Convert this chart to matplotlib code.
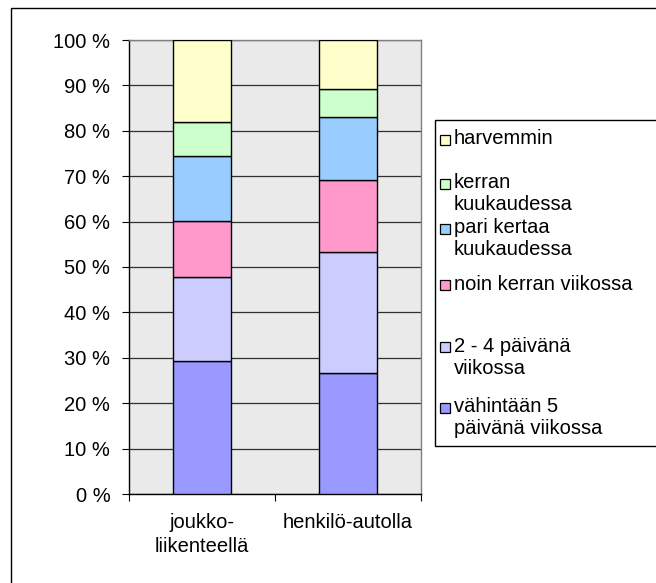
import matplotlib
matplotlib.use('Agg')
import matplotlib.pyplot as plt
import numpy as np
from matplotlib.patches import Rectangle

plt.rcParams['font.family'] = ['Liberation Sans', 'DejaVu Sans']

# data (percent shares, bottom to top)
categories = ['joukko-\nliikenteellä', 'henkilö-autolla']
series_names = ['vähintään 5\npäivänä viikossa', '2 - 4 päivänä\nviikossa',
                'noin kerran viikossa', 'pari kertaa\nkuukaudessa',
                'kerran\nkuukaudessa', 'harvemmin']
values = [
    [29.2, 26.6],
    [18.7, 26.6],
    [12.3, 16.0],
    [14.3, 13.9],
    [7.4, 6.0],
    [18.1, 10.9],
]
colors = ['#9999FF', '#CCCCFF', '#FF99CC', '#99CCFF', '#CCFFCC', '#FFFFCC']

W, H = 656, 583
FS = 14.5
fig = plt.figure(figsize=(W / 100, H / 100), dpi=100)

def fx(px):
    return px / W

def fy(py):
    return 1 - py / H

# outer border (only left/top visible)
fig.patches.append(Rectangle((fx(11), -0.1), 1.2, fy(8) + 0.1, transform=fig.transFigure,
                             fill=False, edgecolor='black', lw=1.0))

ax = fig.add_axes([fx(129), fy(494), fx(421) - fx(129), fy(40) - fy(494)])
ax.set_facecolor('#eaeaea')

x = np.arange(len(categories))
bottom = np.zeros(len(categories))
for name, vals, c in zip(series_names, values, colors):
    ax.bar(x, vals, width=0.4, bottom=bottom, color=c, edgecolor='black', lw=1.0, zorder=3)
    bottom += np.array(vals)

ax.set_xlim(-0.5, 1.5)
ax.set_ylim(0, 100)
ax.set_yticks(np.arange(0, 101, 10))
ax.set_yticklabels([f'{v} %' for v in range(0, 101, 10)], fontsize=FS)
ax.yaxis.grid(True, color='#303030', lw=0.9, zorder=1)
ax.set_axisbelow(True)

# category boundary ticks, labels in between
ax.set_xticks([-0.5, 0.5, 1.5])
ax.set_xticklabels([])
ax.set_xticks(x, minor=True)
ax.set_xticklabels(categories, minor=True, fontsize=FS, linespacing=1.3)
ax.tick_params(axis='x', which='major', direction='out', length=5, color='black')
ax.tick_params(axis='x', which='minor', length=0, pad=14)
ax.tick_params(axis='y', direction='out', length=5, pad=8.5)

for s in ['left', 'bottom']:
    ax.spines[s].set_color('black')
    ax.spines[s].set_linewidth(1.0)
for s in ['top', 'right']:
    ax.spines[s].set_color('#808080')
    ax.spines[s].set_linewidth(1.0)

# legend box drawn by hand
fig.patches.append(Rectangle((fx(435), fy(446)), 1.0, fy(120) - fy(446),
                             transform=fig.transFigure, fill=True, facecolor='white',
                             edgecolor='black', lw=1.0))
legend_y = [408, 347, 285, 229, 184, 140]
for name, c, yy in zip(series_names, colors, legend_y):
    fig.patches.append(Rectangle((fx(440), fy(yy + 5)), fx(10), fy(0) - fy(10),
                                 transform=fig.transFigure, facecolor=c,
                                 edgecolor='black', lw=0.9))
    fig.text(fx(454), fy(yy - 10.5), name, fontsize=FS, va='top', ha='left',
             linespacing=1.2)

fig.savefig('out.png', dpi=100)
